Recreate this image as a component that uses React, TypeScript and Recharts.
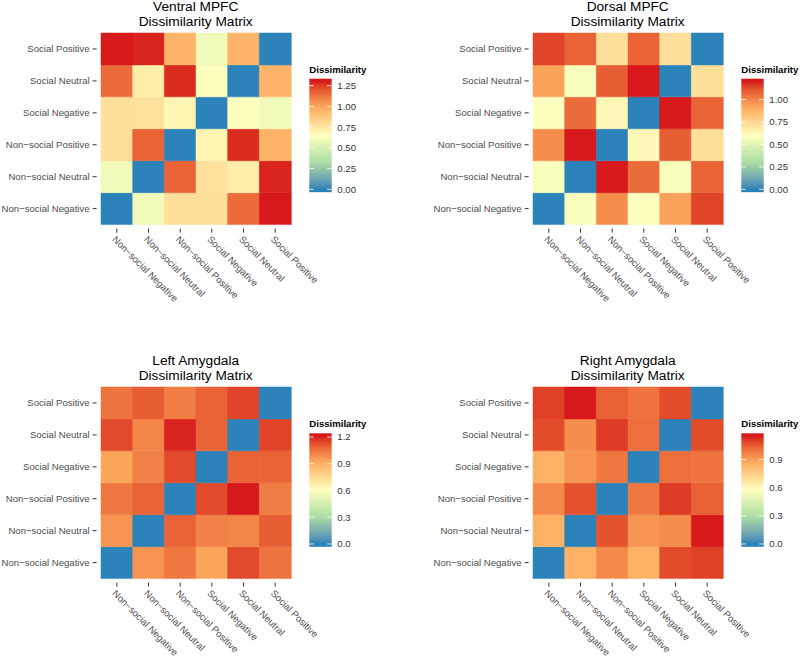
import React from "react";
import { BarChart, Bar, Cell, XAxis, YAxis } from "recharts";

// ---------- data ----------
const columnLabels = [
  "Non−social Negative",
  "Non−social Neutral",
  "Non−social Positive",
  "Social Negative",
  "Social Neutral",
  "Social Positive",
];
// rows as displayed, top to bottom
const rowLabels = [
  "Social Positive",
  "Social Neutral",
  "Social Negative",
  "Non−social Positive",
  "Non−social Neutral",
  "Non−social Negative",
];

const ventralMPFC = [
  [1.3, 1.29, 0.95, 0.6, 0.95, 0],
  [1.15, 0.72, 1.28, 0.64, 0, 0.95],
  [0.78, 0.77, 0.69, 0, 0.64, 0.6],
  [0.78, 1.17, 0, 0.69, 1.28, 0.95],
  [0.6, 0, 1.17, 0.77, 0.72, 1.29],
  [0, 0.6, 0.78, 0.78, 1.15, 1.3],
];
const dorsalMPFC = [
  [1.14, 1.08, 0.72, 1.08, 0.72, 0],
  [0.93, 0.58, 1.09, 1.2, 0, 0.72],
  [0.6, 1.06, 0.63, 0, 1.2, 1.08],
  [0.98, 1.2, 0, 0.63, 1.09, 0.72],
  [0.58, 0, 1.2, 1.06, 0.58, 1.08],
  [0, 0.58, 0.98, 0.6, 0.93, 1.14],
];
const leftAmygdala = [
  [1.05, 1.1, 1.03, 1.09, 1.15, 0],
  [1.14, 1.01, 1.2, 1.09, 0, 1.15],
  [0.93, 1.02, 1.14, 0, 1.09, 1.09],
  [1.04, 1.09, 0, 1.14, 1.21, 1.03],
  [0.97, 0, 1.09, 1.02, 1.01, 1.1],
  [0, 0.97, 1.04, 0.93, 1.14, 1.05],
];
const rightAmygdala = [
  [1.1, 1.15, 1.04, 1.0, 1.08, 0],
  [1.08, 0.94, 1.11, 1.01, 0, 1.08],
  [0.85, 0.92, 0.99, 0, 1.01, 1.0],
  [0.95, 1.07, 0, 0.99, 1.11, 1.04],
  [0.85, 0, 1.07, 0.92, 0.94, 1.15],
  [0, 0.85, 0.95, 0.85, 1.08, 1.1],
];

const ventralBreaks = [0, 0.25, 0.5, 0.75, 1.0, 1.25];
const dorsalBreaks = [0, 0.25, 0.5, 0.75, 1.0];
const leftBreaks = [0, 0.3, 0.6, 0.9, 1.2];
const rightBreaks = [0, 0.3, 0.6, 0.9];

const paletteStops = ["#2B83BA", "#ABDDA4", "#FFFFBF", "#FDAE61", "#D7191C"];

// ---------- colour helpers (Lab interpolation) ----------
function hexToRgb(h: string) {
  return [parseInt(h.slice(1, 3), 16), parseInt(h.slice(3, 5), 16), parseInt(h.slice(5, 7), 16)];
}
function srgbToLin(c: number) {
  c /= 255;
  return c <= 0.04045 ? c / 12.92 : Math.pow((c + 0.055) / 1.055, 2.4);
}
function linToSrgb(c: number) {
  const v = c <= 0.0031308 ? 12.92 * c : 1.055 * Math.pow(c, 1 / 2.4) - 0.055;
  return Math.round(Math.max(0, Math.min(1, v)) * 255);
}
function rgbToLab(rgb: number[]) {
  const R = srgbToLin(rgb[0]), G = srgbToLin(rgb[1]), B = srgbToLin(rgb[2]);
  const X = (0.4124 * R + 0.3576 * G + 0.1805 * B) / 0.95047;
  const Y = 0.2126 * R + 0.7152 * G + 0.0722 * B;
  const Z = (0.0193 * R + 0.1192 * G + 0.9505 * B) / 1.08883;
  const f = (t: number) => (t > 0.008856 ? Math.cbrt(t) : 7.787 * t + 16 / 116);
  return [116 * f(Y) - 16, 500 * (f(X) - f(Y)), 200 * (f(Y) - f(Z))];
}
function labToHex(lab: number[]) {
  const fy = (lab[0] + 16) / 116;
  const fx = fy + lab[1] / 500;
  const fz = fy - lab[2] / 200;
  const finv = (t: number) => (t * t * t > 0.008856 ? t * t * t : (t - 16 / 116) / 7.787);
  const X = finv(fx) * 0.95047, Y = finv(fy), Z = finv(fz) * 1.08883;
  const R = 3.2406 * X - 1.5372 * Y - 0.4986 * Z;
  const G = -0.9689 * X + 1.8758 * Y + 0.0415 * Z;
  const B = 0.0557 * X - 0.204 * Y + 1.057 * Z;
  const h = (n: number) => linToSrgb(n).toString(16).padStart(2, "0");
  return "#" + h(R) + h(G) + h(B);
}
const paletteLab = paletteStops.map((c) => rgbToLab(hexToRgb(c)));
function colorAt(frac: number) {
  const t = Math.max(0, Math.min(1, frac)) * (paletteLab.length - 1);
  const i = Math.min(paletteLab.length - 2, Math.floor(t));
  const u = t - i;
  const a = paletteLab[i], b = paletteLab[i + 1];
  return labToHex([a[0] + (b[0] - a[0]) * u, a[1] + (b[1] - a[1]) * u, a[2] + (b[2] - a[2]) * u]);
}

// ---------- layout ----------
const PLOT_W = 190;
const PLOT_H = 191.6;
const AXIS_FONT = 9.6;
const FONT = "'Liberation Sans', Arial, Helvetica, sans-serif";

const rowLabelsBottomUp = [...rowLabels].reverse();

function YTick(props: any) {
  const { x, y, payload } = props;
  const label = rowLabelsBottomUp[Math.floor(payload.value)];
  return (
    <g>
      <line x1={x - 8.4} x2={x - 4.4} y1={y} y2={y} stroke="#333" strokeWidth={1} />
      <text x={x - 11.4} y={y} dy="0.35em" textAnchor="end" fontSize={AXIS_FONT} fill="#4D4D4D" fontFamily={FONT}>
        {label}
      </text>
    </g>
  );
}

function XTick(props: any) {
  const { x, y, payload } = props;
  const tx = x - 5;
  const ty = y + 15.5;
  return (
    <g>
      <line x1={x} x2={x} y1={y + 4} y2={y + 8} stroke="#333" strokeWidth={1} />
      <text x={tx} y={ty} transform={`rotate(45 ${tx} ${ty})`} textAnchor="start" fontSize={AXIS_FONT} fill="#4D4D4D" fontFamily={FONT}>
        {payload.value}
      </text>
    </g>
  );
}

type PanelProps = {
  id: string;
  plotLeft: number;
  plotTop: number;
  title: string;
  matrix: number[][];
  breaks: number[];
  decimals: number;
};

function Panel({ plotLeft, plotTop, matrix }: PanelProps) {
  const max = Math.max(...matrix.flat());
  const data = columnLabels.map((c) => {
    const d: any = { col: c };
    rowLabelsBottomUp.forEach((_, i) => (d["r" + i] = 1));
    return d;
  });
  const chartLeft = plotLeft - 100;
  const chartTop = plotTop - 5;
  return (
    <div style={{ position: "absolute", left: chartLeft, top: chartTop }}>
      <BarChart
        width={100 + PLOT_W + 70}
        height={5 + PLOT_H + 90}
        data={data}
        margin={{ top: 5, right: 70, bottom: 0, left: 0 }}
        barCategoryGap={0}
        barGap={0}
      >
        <XAxis
          dataKey="col"
          type="category"
          height={90}
          tickLine={false}
          axisLine={false}
          tickSize={0}
          tickMargin={0}
          interval={0}
          tick={(p: any) => <XTick {...p} />}
        />
        <YAxis
          type="number"
          domain={[0, 6]}
          ticks={[0.5, 1.5, 2.5, 3.5, 4.5, 5.5]}
          width={100}
          tickLine={false}
          axisLine={false}
          tickSize={0}
          tickMargin={0}
          allowDecimals
          tick={(p: any) => <YTick {...p} />}
        />
        {rowLabelsBottomUp.map((_, i) => (
          <Bar key={i} dataKey={"r" + i} stackId="s" isAnimationActive={false}>
            {columnLabels.map((c, j) => {
              const fill = colorAt(matrix[5 - i][j] / max);
              return <Cell key={j} fill={fill} stroke={fill} strokeWidth={0.5} />;
            })}
          </Bar>
        ))}
      </BarChart>
    </div>
  );
}

function Decorations({ id, plotLeft, plotTop, title, matrix, breaks, decimals }: PanelProps) {
  const max = Math.max(...matrix.flat());
  const cx = plotLeft + PLOT_W / 2;
  const lines = title.split("\n");
  const barX = plotLeft + 208.6;
  const barY = plotTop + 46;
  const barW = 22.4;
  const barH = 113.5;
  const posOf = (v: number) => barY + barH - barH * (0.025 + (0.95 * v) / max);
  const stops = [];
  for (let k = 0; k <= 40; k++) {
    const f = k / 40;
    stops.push(<stop key={k} offset={0.025 + 0.95 * f} stopColor={colorAt(f)} />);
  }
  return (
    <g>
      {lines.map((l, i) => (
        <text key={i} x={cx} y={plotTop - 22.2 + i * 15} textAnchor="middle" fontSize={13.7} fill="#000" fontFamily={FONT}>
          {l}
        </text>
      ))}
      <text x={barX} y={plotTop + 40} fontSize={9.6} fontWeight="bold" fill="#000" fontFamily={FONT}>
        Dissimilarity
      </text>
      <defs>
        <linearGradient id={"grad-" + id} x1="0" y1="1" x2="0" y2="0">
          <stop offset={0} stopColor={colorAt(0)} />
          {stops}
          <stop offset={1} stopColor={colorAt(1)} />
        </linearGradient>
      </defs>
      <rect x={barX} y={barY} width={barW} height={barH} fill={`url(#grad-${id})`} />
      {breaks.map((b, i) => {
        const y = posOf(b);
        return (
          <g key={i}>
            <line x1={barX} x2={barX + 4.5} y1={y} y2={y} stroke="#fff" strokeWidth={0.8} />
            <line x1={barX + barW - 4.5} x2={barX + barW} y1={y} y2={y} stroke="#fff" strokeWidth={0.8} />
            <text x={barX + barW + 5.6} y={y} dy="0.35em" fontSize={9.6} fill="#333" fontFamily={FONT}>
              {b.toFixed(decimals)}
            </text>
          </g>
        );
      })}
    </g>
  );
}

const panels: PanelProps[] = [
  { id: "vm", plotLeft: 100.7, plotTop: 32.7, title: "Ventral MPFC\nDissimilarity Matrix", matrix: ventralMPFC, breaks: ventralBreaks, decimals: 2 },
  { id: "dm", plotLeft: 532.7, plotTop: 32.7, title: "Dorsal MPFC\nDissimilarity Matrix", matrix: dorsalMPFC, breaks: dorsalBreaks, decimals: 2 },
  { id: "la", plotLeft: 100.7, plotTop: 387.3, title: "Left Amygdala\nDissimilarity Matrix", matrix: leftAmygdala, breaks: leftBreaks, decimals: 1 },
  { id: "ra", plotLeft: 532.7, plotTop: 387.3, title: "Right Amygdala\nDissimilarity Matrix", matrix: rightAmygdala, breaks: rightBreaks, decimals: 1 },
];

export default function App() {
  return (
    <div
      style={{
        position: "absolute",
        left: 0,
        top: 0,
        width: 800,
        height: 657,
        overflow: "hidden",
        background: "#fff",
        fontFamily: FONT,
      }}
    >
      {panels.map((p) => (
        <Panel key={p.id} {...p} />
      ))}
      <svg width={800} height={657} style={{ position: "absolute", left: 0, top: 0, pointerEvents: "none" }}>
        {panels.map((p) => (
          <Decorations key={p.id} {...p} />
        ))}
      </svg>
    </div>
  );
}
